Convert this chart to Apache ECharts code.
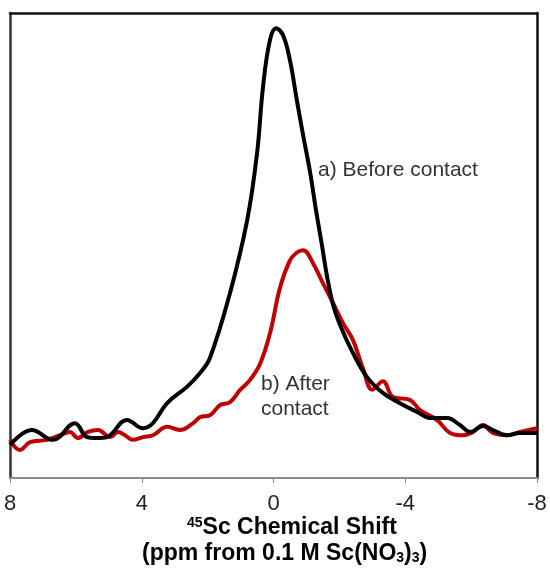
<!DOCTYPE html>
<html>
<head>
<meta charset="utf-8">
<script src="https://cdn.jsdelivr.net/npm/echarts@6/dist/echarts.min.js"></script>
<style>
  html, body { margin: 0; padding: 0; background: #fff; }
  #chart { width: 550px; height: 570px; }
</style>
</head>
<body>
<div id="chart"></div>
<script>
// 45Sc NMR spectra, ppm (x) vs intensity (arbitrary, 0-100)
const beforePpm = [8.0, 7.34, 6.69, 6.03, 5.66, 5.36, 5.06, 4.45, 3.96, 3.66, 3.23, 2.63, 2.23, 1.93, 1.32, 0.80, 0.50, 0.32, 0.11, -0.08, -0.29, -0.50, -0.71, -0.90, -1.11, -1.29, -1.47, -1.62, -1.81, -2.02, -2.41, -2.84, -3.32, -3.84, -4.36, -4.75, -5.27, -5.66, -5.97, -6.36, -6.66, -7.09, -7.48, -8.0]
const beforeInt = [7.1, 10.3, 8.2, 11.8, 8.8, 8.6, 8.8, 12.5, 10.7, 11.8, 16.1, 19.6, 22.6, 25.8, 39.8, 55.4, 69.8, 84.0, 94.1, 96.7, 95.2, 89.8, 81.2, 73.7, 65.8, 57.6, 50.1, 43.6, 37.2, 32.9, 26.9, 21.7, 18.3, 16.1, 14.2, 12.9, 12.9, 11.4, 9.9, 11.2, 10.3, 9.2, 9.7, 9.7]

const afterPpm = [8.0, 7.70, 7.39, 6.88, 6.48, 6.18, 5.94, 5.63, 5.33, 4.96, 4.72, 4.51, 4.27, 3.96, 3.66, 3.23, 2.84, 2.44, 2.23, 1.93, 1.62, 1.32, 1.02, 0.71, 0.41, 0.11, -0.20, -0.50, -0.71, -0.90, -1.20, -1.50, -1.81, -2.11, -2.41, -2.72, -3.0, -3.32, -3.63, -4.14, -4.45, -4.96, -5.36, -5.75, -6.06, -6.36, -6.66, -7.09, -7.48, -8.0]
const afterInt = [8.2, 6.0, 7.7, 8.2, 9.2, 9.9, 8.6, 9.9, 10.3, 8.8, 9.9, 9.2, 8.2, 8.8, 9.2, 11.0, 10.3, 11.8, 13.1, 13.5, 15.7, 16.3, 18.9, 21.1, 24.5, 31.0, 41.0, 46.8, 48.5, 49.0, 46.2, 41.9, 37.6, 33.3, 29.7, 23.5, 19.0, 20.8, 17.4, 16.8, 14.6, 12.5, 9.7, 9.2, 9.9, 11.4, 9.7, 9.2, 9.9, 10.7]

const xTicks = [-8, 4]  // min, interval

const font = 'Liberation Sans, Arial, sans-serif'

const pairs = (xs, ys) => xs.map((x, i) => [x, ys[i]])

// 边框轴（只画线）
const frameAxis = (position, color) => ({
  type: 'value',
  min: position === 'top' ? -8 : 0,
  max: position === 'top' ? 8 : 100,
  inverse: position === 'top',
  position,
  axisLine: { show: true, onZero: false, lineStyle: { color, width: 2.5 } },
  axisTick: { show: false },
  axisLabel: { show: false },
  splitLine: { show: false }
})

const myChart = echarts.init(document.getElementById('chart'))

const option = {
  animation: false,
  grid: { left: 10, right: 13, top: 13, bottom: 92 },
  xAxis: [
    {
      type: 'value',
      inverse: true,
      min: xTicks[0],
      max: 8,
      interval: xTicks[1],
      position: 'bottom',
      axisLine: { show: true, onZero: false, lineStyle: { color: '#8c8c8c', width: 2 } },
      axisTick: { show: true, length: 5, lineStyle: { color: '#8c8c8c', width: 1 } },
      axisLabel: { color: '#222', fontSize: 22, fontFamily: font, margin: 15 },
      splitLine: { show: false }
    },
    frameAxis('top', '#111')
  ],
  yAxis: [
    frameAxis('left', '#333'),
    frameAxis('right', '#111')
  ],
  series: [
    {
      name: 'b) After contact',
      type: 'line',
      smooth: 0.4,
      symbol: 'none',
      lineStyle: { color: '#c00000', width: 4 },
      data: pairs(afterPpm, afterInt)
    },
    {
      name: 'a) Before contact',
      type: 'line',
      smooth: 0.4,
      symbol: 'none',
      lineStyle: { color: '#000', width: 4 },
      data: pairs(beforePpm, beforeInt)
    }
  ],
  graphic: [
    {
      type: 'text', left: 318, top: 160,
      style: { text: 'a) Before contact', fill: '#333', font: '21px ' + font }
    },
    {
      type: 'text', left: 261, top: 372,
      style: { text: 'b) After\ncontact', fill: '#333', font: '21px ' + font, lineHeight: 25 }
    },
    {
      type: 'text', left: 187, top: 516,
      style: {
        text: '{sup|45}{b|Sc Chemical Shift}',
        rich: {
          b: { fontFamily: font, fontWeight: 'bold', fontSize: 23, fill: '#000', lineHeight: 24 },
          sup: { fontFamily: font, fontWeight: 'bold', fontSize: 14, fill: '#000', lineHeight: 24, verticalAlign: 'top', padding: [0, 0, 8, 0] }
        }
      }
    },
    {
      type: 'text', left: 142, top: 542,
      style: {
        text: '{b|(ppm from 0.1 M Sc(NO}{sub|3}{b|)}{sub|3}{b|)}',
        rich: {
          b: { fontFamily: font, fontWeight: 'bold', fontSize: 23, fill: '#000', lineHeight: 24 },
          sub: { fontFamily: font, fontWeight: 'bold', fontSize: 14, fill: '#000', lineHeight: 24, verticalAlign: 'bottom', padding: [8, 0, 0, 0] }
        }
      }
    }
  ]
}

myChart.setOption(option)
window.onresize = () => {
  myChart.resize()
}
</script>
</body>
</html>
